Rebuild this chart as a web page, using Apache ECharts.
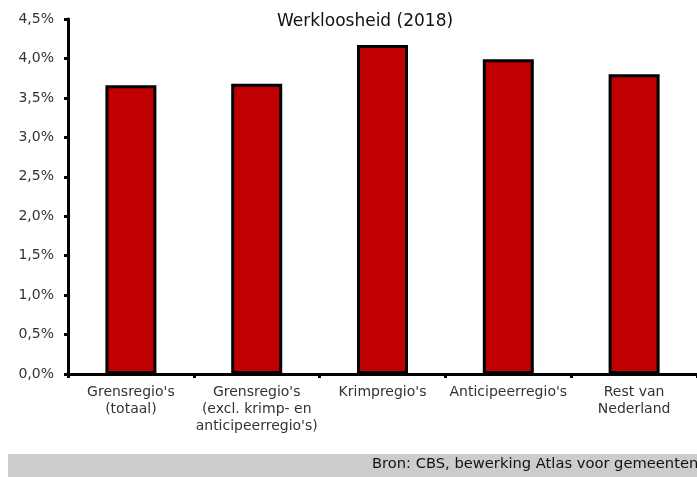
<!DOCTYPE html>
<html>
<head>
    <meta charset="utf-8">
    <script src="https://cdn.jsdelivr.net/npm/echarts@6/dist/echarts.min.js"></script>
</head>
<body style="margin:0">
    <div id="main" style="width: 697px;height:477px;"></div>
    <script type="text/javascript">
        // regio's en werkloosheid (%)
        var categories = [
            "Grensregio's\n(totaal)",
            "Grensregio's\n(excl. krimp- en\nanticipeerregio's)",
            "Krimpregio's",
            "Anticipeerregio's",
            "Rest van\nNederland"
        ];
        var werkloosheid = [3.66, 3.68, 4.17, 3.99, 3.80];

        var myChart = echarts.init(document.getElementById('main'));

        var option = {
            backgroundColor: '#fff',
            textStyle: {fontFamily: 'DejaVu Sans'},
            title: {
                text: 'Werkloosheid (2018)',
                left: 360,
                textAlign: 'center',
                top: 8,
                textStyle: {fontSize: 17, fontWeight: 'normal', color: '#111', fontFamily: 'DejaVu Sans'}
            },
            grid: {
                left: 68,
                right: -9,
                top: 19,
                bottom: 103
            },
            xAxis: {
                type: 'category',
                data: categories,
                axisLine: {lineStyle: {color: '#000', width: 3}},
                axisTick: {show: true, length: 4, lineStyle: {color: '#000', width: 3}},
                axisLabel: {color: '#333', fontSize: 14, lineHeight: 17, margin: 10, interval: 0}
            },
            yAxis: {
                type: 'value',
                min: 0,
                max: 4.5,
                interval: 0.5,
                axisLine: {show: true, lineStyle: {color: '#000', width: 3}},
                axisTick: {show: true, length: 4, lineStyle: {color: '#000', width: 3}},
                splitLine: {show: false},
                axisLabel: {
                    color: '#333',
                    fontSize: 14,
                    margin: 14,
                    formatter: function (v) {
                        return v.toFixed(1).replace('.', ',') + '%';
                    }
                }
            },
            graphic: [
                {
                    type: 'rect',
                    shape: {x: 8, y: 454, width: 700, height: 23},
                    style: {fill: '#cccccc'}
                },
                {
                    type: 'text',
                    left: 372,
                    top: 457,
                    style: {text: 'Bron: CBS, bewerking Atlas voor gemeenten', fill: '#111', font: '14.7px "DejaVu Sans"'}
                }
            ],
            series: [
                {
                    type: 'bar',
                    data: werkloosheid,
                    barWidth: 51,
                    itemStyle: {color: '#c00000', borderColor: '#000', borderWidth: 3}
                }
            ]
        };

        myChart.setOption(option);
    </script>
</body>
</html>
